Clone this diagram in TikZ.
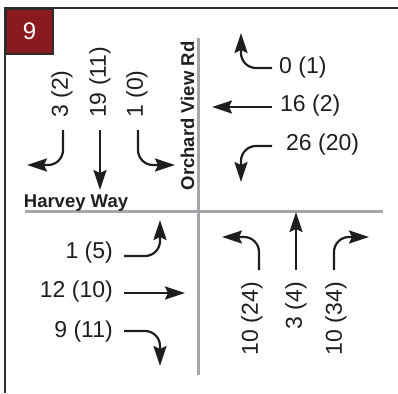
\documentclass[tikz,border=0pt]{standalone}
\usepackage{fontspec}
\setmainfont{Liberation Sans}
\usepackage{tikz}
\usetikzlibrary{arrows.meta,positioning}
\definecolor{boxred}{RGB}{139,26,30}
\definecolor{framegrey}{RGB}{45,45,45}
\definecolor{roadgrey}{RGB}{165,165,172}
\definecolor{mvblack}{RGB}{30,30,30}
\tikzset{
    vol/.style={font=\fontsize{23}{23}\selectfont, inner sep=0pt,
                text=mvblack},
    vvol/.style={vol, rotate=90},
    road/.style={line width=3pt, roadgrey},
    rdname/.style={font=\fontsize{18.5}{18.5}\selectfont\bfseries,
                   inner sep=0pt, text=mvblack},
    mv/.style={line width=2.2pt, mvblack, rounded corners=15pt,
               -{Stealth[length=20pt,width=13pt,inset=3pt]}},
}

\begin{document}
\begin{tikzpicture}[x=1pt, y=-1pt]
    \useasboundingbox (0,0) rectangle (398,393);

    \draw[framegrey, line width=2.5pt] (5,393) -- (5,8) -- (398,8);
    \node[draw=framegrey, line width=2pt, fill=boxred, anchor=north west,
          minimum width=47pt, minimum height=45pt, text=white,
          font=\fontsize{24}{24}\selectfont] (num) at (5,8) {9};

    \draw[road] (198,38) -- (198,375);
    \draw[road] (25,211) -- (383,211);

    \node[rdname, rotate=90, anchor=base] (orchard) at (194,116) {Orchard View Rd};
    \node[rdname, anchor=base] (harvey) at (76,207) {Harvey Way};

    % southbound
    \node[vvol, anchor=west] (sbRt) at (62,118) {3 (2)};
    \node[vvol, anchor=west] (sbTh) at (100,118) {19 (11)};
    \node[vvol, anchor=west] (sbLt) at (137,118) {1 (0)};
    \coordinate (sbRt-s) at (63,130);  \coordinate (sbRt-e) at (27,165);
    \coordinate (sbTh-s) at (100,130); \coordinate (sbTh-e) at (100,190);
    \coordinate (sbLt-s) at (138,130); \coordinate (sbLt-e) at (175,165);
    \draw[mv] (sbRt-s) |- (sbRt-e);
    \draw[mv] (sbTh-s) -- (sbTh-e);
    \draw[mv] (sbLt-s) |- (sbLt-e);

    % westbound
    \node[vol, anchor=west] (wbRt) at (279,68) {0 (1)};
    \node[vol, anchor=west] (wbTh) at (280,106) {16 (2)};
    \node[vol, anchor=west] (wbLt) at (286,145) {26 (20)};
    \coordinate (wbRt-s) at (272,68);  \coordinate (wbRt-e) at (241,33);
    \coordinate (wbTh-s) at (272,107); \coordinate (wbTh-e) at (212,107);
    \coordinate (wbLt-s) at (272,146); \coordinate (wbLt-e) at (241,182);
    \draw[mv] (wbRt-s) -| (wbRt-e);
    \draw[mv] (wbTh-s) -- (wbTh-e);
    \draw[mv] (wbLt-s) -| (wbLt-e);

    % eastbound
    \node[vol, anchor=east] (ebLt) at (113,253) {1 (5)};
    \node[vol, anchor=east] (ebTh) at (113,292) {12 (10)};
    \node[vol, anchor=east] (ebRt) at (113,332) {9 (11)};
    \coordinate (ebLt-s) at (124,256); \coordinate (ebLt-e) at (160,220);
    \coordinate (ebTh-s) at (124,293); \coordinate (ebTh-e) at (185,293);
    \coordinate (ebRt-s) at (124,331); \coordinate (ebRt-e) at (160,366);
    \draw[mv] (ebLt-s) -| (ebLt-e);
    \draw[mv] (ebTh-s) -- (ebTh-e);
    \draw[mv] (ebRt-s) -| (ebRt-e);

    % northbound
    \node[vvol, anchor=east] (nbLt) at (252,282) {10 (24)};
    \node[vvol, anchor=east] (nbTh) at (296,282) {3 (4)};
    \node[vvol, anchor=east] (nbRt) at (336,282) {10 (34)};
    \coordinate (nbLt-s) at (259,270); \coordinate (nbLt-e) at (222,237);
    \coordinate (nbTh-s) at (296,270); \coordinate (nbTh-e) at (296,212);
    \coordinate (nbRt-s) at (334,270); \coordinate (nbRt-e) at (369,237);
    \draw[mv] (nbLt-s) |- (nbLt-e);
    \draw[mv] (nbTh-s) -- (nbTh-e);
    \draw[mv] (nbRt-s) |- (nbRt-e);
\end{tikzpicture}
\end{document}
